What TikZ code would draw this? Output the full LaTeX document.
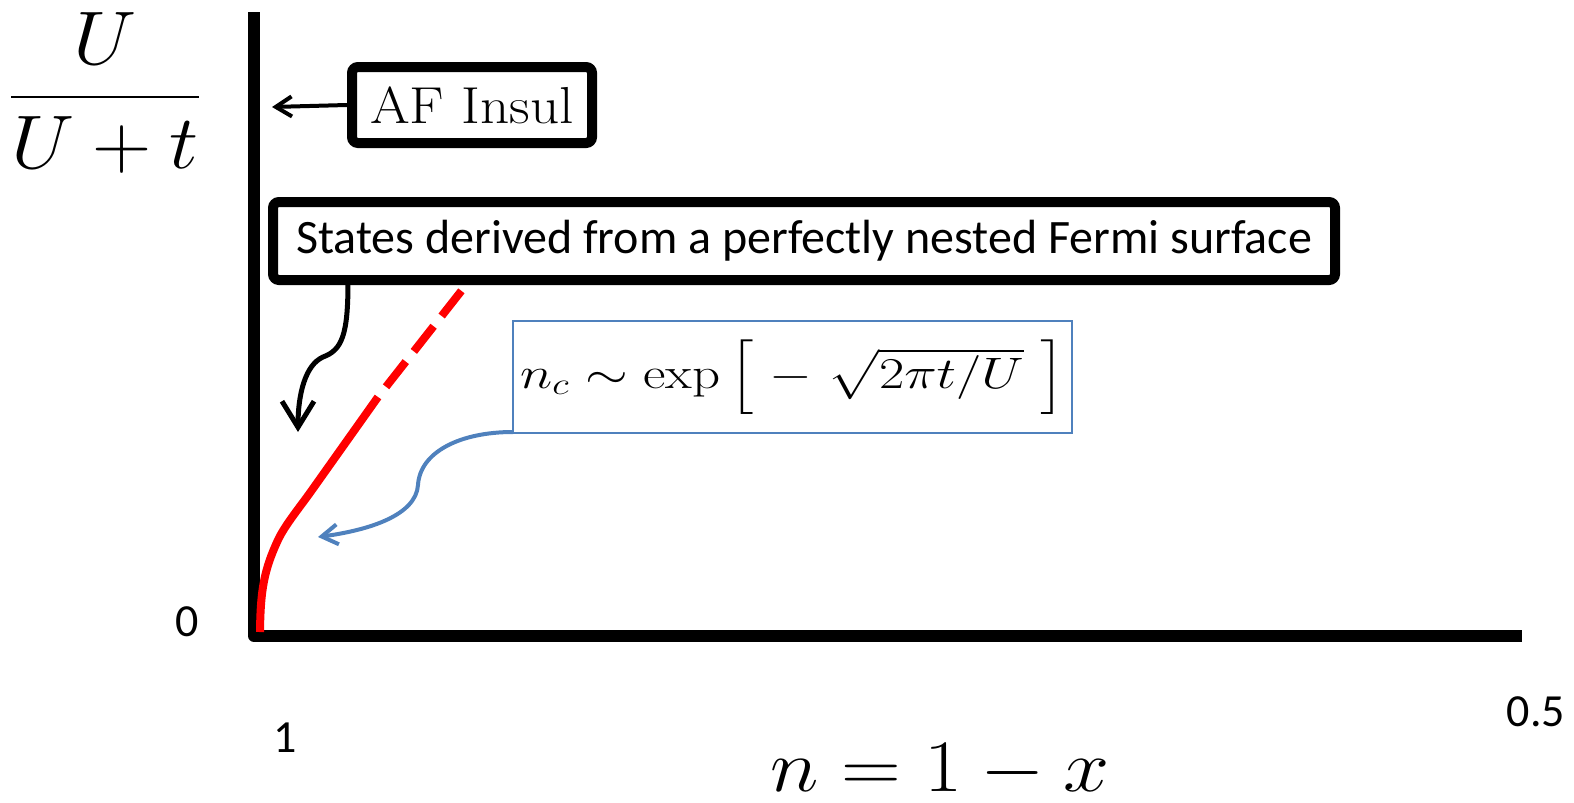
\RequirePackage{fix-cm}
\documentclass[tikz,border=0pt]{standalone}
\usepackage{exscale}
\usepackage{fontspec}
\newfontfamily\carlito{Carlito}
\usetikzlibrary{arrows.meta,shadows}
\definecolor{stblue}{HTML}{4F81BD}
\definecolor{redc}{HTML}{FF0000}
\begin{document}
\begin{tikzpicture}[x=0.5pt,y=-0.5pt,
  blackbox/.style={draw=black,line width=5pt,rounded corners=3pt,fill=white,inner sep=0pt,
     drop shadow={opacity=0.25,shadow xshift=1.5pt,shadow yshift=-1.5pt}},
  bluebox/.style={draw=stblue,line width=1pt,fill=white,inner sep=0pt},
  sanslab/.style={font=\carlito\fontsize{23}{26}\selectfont,inner sep=0pt}]
\useasboundingbox (0,0) rectangle (1574,803);
% axes
\coordinate (top) at (254,12);
\coordinate (orig) at (254,636);
\coordinate (xend) at (1522,636);
\draw[line width=6pt,line join=round,line cap=butt] (top) -- (orig) -- (xend);
% red curve
\coordinate (c0) at (260,632);
\coordinate (cs) at (378,397);
\coordinate (ce) at (466,285);
\draw[redc,line width=4pt] (c0) .. controls (260.5,590) and (264,570) .. (278,540)
  .. controls (285,525) and (300,507) .. (312,490) -- (cs);
\draw[redc,line width=4pt,dash pattern=on 16pt off 6.5pt,dash phase=16pt] (cs) -- (ce);
% boxes
\node[blackbox,minimum width=120pt,minimum height=38pt,
  font=\fontsize{26}{28}\selectfont] (af) at (472,105) {\scalebox{1.1}[1]{AF Insul}};
\node[blackbox,minimum width=531pt,minimum height=39pt,
  font=\carlito\fontsize{24}{28}\selectfont] (st) at (804,241)
  {States derived from a perfectly nested Fermi surface};
\node[bluebox,minimum width=279.5pt,minimum height=56pt,
  font=\fontsize{22}{26}\selectfont] (nc) at (792.5,377)
  {\scalebox{1.25}[1]{$n_c\sim\exp\left[\;-\;\sqrt{2\pi t/U}\ \right]$}};
% arrows
\coordinate (afend) at (272,107);
\draw[line width=2pt,-{Straight Barb[length=8pt,width=10pt,line width=2pt]}] (af.west) -- (afend);
\coordinate (stst) at (348,282);
\coordinate (stend) at (298,432);
\draw[line width=2.5pt,-{Straight Barb[length=13pt,width=16pt,line width=2.5pt]}]
  (stst) .. controls (348,335) and (342,350) .. (323,357)
  .. controls (305,365) and (298,395) .. (stend);
\coordinate (ncst) at (513,432);
\coordinate (ncend) at (318,537);
\draw[stblue,line width=2pt,-{Straight Barb[length=8pt,width=10pt,line width=2pt]}]
  (ncst) .. controls (460,432) and (420,452) .. (418,485)
  .. controls (416,515) and (370,530) .. (ncend);
% labels
\node[sanslab] (zero) at (187,622) {0};
\node[sanslab] (one) at (285,738) {1};
\node[sanslab] (half) at (1536,712) {0.5};
\node[inner sep=0pt,font=\fontsize{38}{40}\selectfont] (ylab) at (105,93)
  {\scalebox{1.08}[1]{$\displaystyle\frac{U}{U+t}$}};
\node[inner sep=0pt,anchor=base,font=\fontsize{37}{40}\selectfont] (xlab) at (940,791)
  {\scalebox{1.12}[1]{$n=1-x$}};
\end{tikzpicture}
\end{document}
